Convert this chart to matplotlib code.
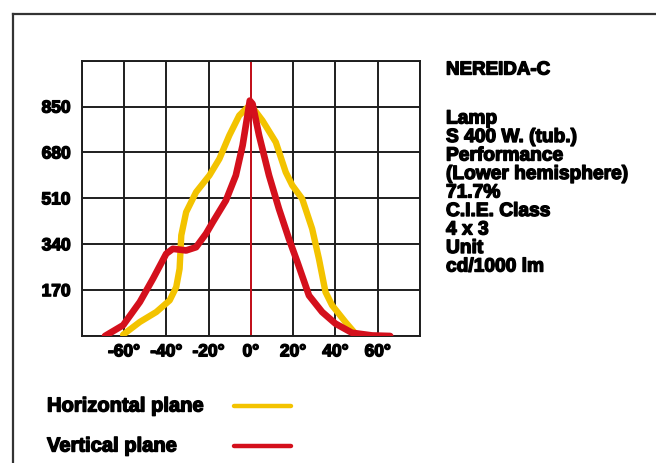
import numpy as np
import matplotlib
matplotlib.use("Agg")
import matplotlib.pyplot as plt
from matplotlib.lines import Line2D
import matplotlib.patheffects as pe

# luminous intensity curves, cd/1000 lm
horiz_angle = [-60.4, -52.5, -44.7, -38.4, -35.3, -33.7, -32.9, -30.6, -25.9, -19.6,
               -14.9, -10.2, -5.5, -1.6, 0.8, 5.5, 11.8, 16.5, 19.6, 24.3,
               29.0, 32.2, 35.3, 38.4, 44.7, 49.4, 51.0]
horiz_value = [5, 52, 89, 132, 181, 249, 373, 459, 533, 595,
               656, 743, 817, 847, 847, 798, 718, 607, 558, 508,
               397, 286, 163, 114, 52, 9, 0]

vert_angle = [-69.0, -60.4, -52.5, -46.3, -40.0, -36.9, -30.6, -25.9, -21.2, -18.0,
              -11.8, -7.1, -3.9, -1.6, -0.5, 0.8, 3.9, 8.6, 13.3, 18.0,
              22.0, 27.5, 33.7, 40.0, 47.8, 57.3, 65.9]
vert_value = [0, 40, 126, 212, 305, 323, 317, 329, 379, 422,
              502, 595, 706, 817, 872, 860, 743, 595, 471, 360,
              274, 150, 89, 46, 12, 2, 0]

xticks = [-60, -40, -20, 0, 20, 40, 60]
xticklabels = ["-60°", "-40°", "-20°", "0°", "20°", "40°", "60°"]
yticks = [170, 340, 510, 680, 850]

info_lines = ["Lamp", "S 400 W. (tub.)", "Performance", "(Lower hemisphere)",
              "71.7%", "C.I.E. Class", "4 x 3", "Unit", "cd/1000 lm"]
legend_labels = ["Horizontal plane", "Vertical plane"]

YELLOW = "#f3c300"
RED = "#d4101c"
GRID = "#1e1e1e"
W, H = 656, 464

plt.rcParams["font.family"] = ["Liberation Sans", "DejaVu Sans"]
plt.rcParams["font.weight"] = "bold"
heavy = [pe.withStroke(linewidth=1.0, foreground="black")]

fig = plt.figure(figsize=(W / 100, H / 100), dpi=100)
ax = fig.add_axes([81.7 / W, 1 - 337 / H, (420 - 81.7) / W, (337 - 61.7) / H])

ax.set_xlim(-80, 80)
ax.set_ylim(0, 1020)
ax.set_xticks(xticks)
ax.set_xticklabels(xticklabels)
ax.set_xticks([-80, 80], minor=True)
ax.set_yticks(yticks)
ax.set_yticks([0, 1020], minor=True)
ax.grid(True, which="both", color=GRID, lw=1.4)
ax.axvline(0, color=RED, lw=1.3, zorder=1.5)
ax.tick_params(length=0, labelsize=12.5, pad=8, which="both")
ax.tick_params(axis="x", pad=6)
for lab in ax.get_xticklabels() + ax.get_yticklabels():
    lab.set_fontweight("bold")
    lab.set_path_effects(heavy)
for s in ax.spines.values():
    s.set_color(GRID)
    s.set_linewidth(1.4)
ax.set_axisbelow(True)

ax.plot(horiz_angle, horiz_value, color=YELLOW, lw=4.6, solid_capstyle="round",
        solid_joinstyle="round", zorder=3)
ax.plot(vert_angle, vert_value, color=RED, lw=4.8, solid_capstyle="round",
        solid_joinstyle="round", zorder=4)

# outer frame
fig.add_artist(Line2D([13 / W, 1.0], [1 - 15 / H, 1 - 15 / H], color="#333333", lw=1.6))
fig.add_artist(Line2D([13 / W, 13 / W], [0, 1 - 15 / H], color="#333333", lw=1.6))

# info block
tx = 446 / W
fig.text(tx, 1 - 71 / H, "NEREIDA-C", fontsize=13.5, fontweight="bold", va="center",
         path_effects=heavy)
ys = [120, 138.5, 157, 175.5, 194, 212.5, 231, 249.5, 268]
for y, s in zip(ys, info_lines):
    fig.text(tx, 1 - y / H, s, fontsize=13.8, fontweight="bold", va="center",
             path_effects=heavy)

# legend
for y, lab, col in zip([407, 447], legend_labels, [YELLOW, RED]):
    fig.text(47 / W, 1 - y / H, lab, fontsize=14.5, fontweight="bold", va="center",
             path_effects=heavy)
    fig.add_artist(Line2D([234 / W, 291 / W], [1 - y / H, 1 - y / H], color=col,
                          lw=3.2, solid_capstyle="round"))

fig.savefig("out.png", dpi=100)
